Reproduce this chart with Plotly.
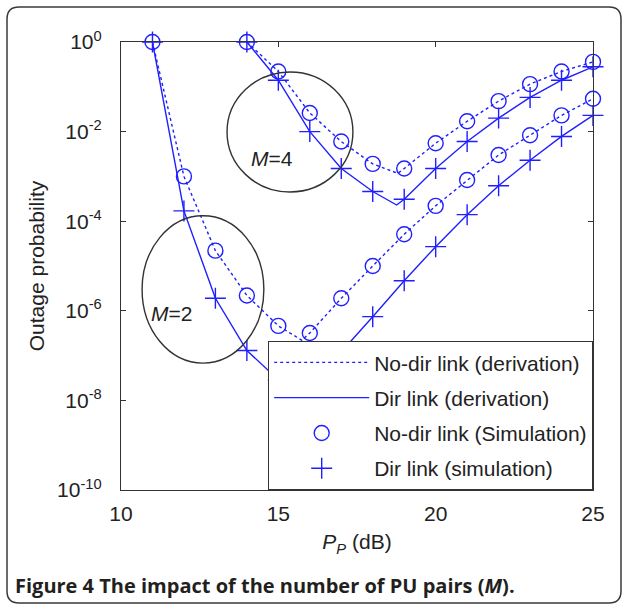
import math
import plotly.graph_objects as go

# ---------------- data ----------------
pp_m2 = [11, 12, 13, 14, 15, 16, 17, 18, 19, 20, 21, 22, 23, 24, 25]
pp_m4 = [14, 15, 16, 17, 18, 19, 20, 21, 22, 23, 24, 25]

# simulation points
m2_nodir_sim = [1.0, 1.0e-3, 2.2e-5, 2.2e-6, 4.6e-7, 3.2e-7, 1.9e-6, 1.0e-5,
                5.1e-5, 2.2e-4, 8.3e-4, 3.0e-3, 8.3e-3, 2.3e-2, 5.4e-2]
m2_dir_sim = [1.0, 1.7e-4, 1.9e-6, 1.3e-7, 2.9e-8, 2.0e-8, 1.2e-7, 7.4e-7,
              4.7e-6, 2.7e-5, 1.4e-4, 6.2e-4, 2.3e-3, 7.8e-3, 2.3e-2]
m4_nodir_sim = [1.0, 2.2e-1, 2.6e-2, 6.0e-3, 1.9e-3, 1.5e-3, 5.5e-3, 1.7e-2,
                4.8e-2, 1.15e-1, 2.2e-1, 3.6e-1]
m4_dir_sim = [1.0, 1.4e-1, 1.0e-2, 1.5e-3, 4.6e-4, 3.1e-4, 1.5e-3, 6.0e-3,
              2.0e-2, 5.8e-2, 1.4e-1, 2.8e-1]

# derivation curves (include the minimum of each V)
m2_der_pp = [11, 12, 13, 14, 15, 15.75, 16, 17, 18, 19, 20, 21, 22, 23, 24, 25]
m2_nodir_der = [1.0, 1.0e-3, 2.2e-5, 2.2e-6, 4.6e-7, 2.2e-7, 3.2e-7, 1.9e-6, 1.0e-5,
                5.1e-5, 2.2e-4, 8.3e-4, 3.0e-3, 8.3e-3, 2.3e-2, 5.4e-2]
m2_dir_der = [1.0, 1.7e-4, 1.9e-6, 1.3e-7, 2.9e-8, 1.4e-8, 2.0e-8, 1.2e-7, 7.4e-7,
              4.7e-6, 2.7e-5, 1.4e-4, 6.2e-4, 2.3e-3, 7.8e-3, 2.3e-2]
m4_nodir_der_pp = [14, 15, 16, 17, 18, 18.8, 19, 20, 21, 22, 23, 24, 25]
m4_nodir_der = [1.0, 2.2e-1, 2.6e-2, 6.0e-3, 1.9e-3, 1.17e-3, 1.5e-3, 5.5e-3, 1.7e-2,
                4.8e-2, 1.15e-1, 2.2e-1, 3.6e-1]
m4_dir_der_pp = [14, 15, 16, 17, 18, 18.76, 19, 20, 21, 22, 23, 24, 25]
m4_dir_der = [1.0, 1.4e-1, 1.0e-2, 1.5e-3, 4.6e-4, 2.3e-4, 3.1e-4, 1.5e-3, 6.0e-3,
              2.0e-2, 5.8e-2, 1.4e-1, 2.8e-1]

x_ticks = [10, 15, 20, 25]
y_tick_vals = [1, 1e-2, 1e-4, 1e-6, 1e-8, 1e-10]
y_tick_text = ["10<sup>0</sup>", "10<sup>-2</sup>", "10<sup>-4</sup>",
               "10<sup>-6</sup>", "10<sup>-8</sup>", "10<sup>-10</sup>"]

legend_names = ["No-dir link (derivation)", "Dir link (derivation)",
                "No-dir link (Simulation)", "Dir link (simulation)"]

# ellipses marking the M groups: [x0, x1, y0, y1]
ellipse_m4 = [13.37, 17.37, 4.5e-4, 2.14e-1]
ellipse_m2 = [10.67, 14.54, 6.8e-8, 1.32e-4]
label_m4 = [14.8, 10 ** -2.6]
label_m2 = [11.62, 10 ** -6.05]

# ---------------- figure ----------------
BLUE = "#1f1fff"
FONT = "Liberation Sans, Arial, sans-serif"
FS = 21
fig = go.Figure()

def der(x, y, dash, name, show, grp):
    fig.add_trace(go.Scatter(x=x, y=y, mode="lines", name=name, showlegend=show,
                             legendgroup=grp,
                             line=dict(color=BLUE, width=1.4, dash=dash)))

def sim(x, y, symbol, size, name, show, grp):
    fig.add_trace(go.Scatter(x=x, y=y, mode="markers", name=name, showlegend=show,
                             legendgroup=grp, cliponaxis=False,
                             marker=dict(symbol=symbol, size=size, color=BLUE,
                                         line=dict(color=BLUE, width=1.4))))

der(m2_der_pp, m2_nodir_der, "dot", legend_names[0], True, "a")
der(m2_der_pp, m2_dir_der, "solid", legend_names[1], True, "b")
sim(pp_m2, m2_nodir_sim, "circle-open", 15, legend_names[2], True, "c")
sim(pp_m2, m2_dir_sim, "cross-thin-open", 15, legend_names[3], True, "d")
der(m4_nodir_der_pp, m4_nodir_der, "dot", legend_names[0], False, "a")
der(m4_dir_der_pp, m4_dir_der, "solid", legend_names[1], False, "b")
sim(pp_m4, m4_nodir_sim, "circle-open", 15, legend_names[2], False, "c")
sim(pp_m4, m4_dir_sim, "cross-thin-open", 15, legend_names[3], False, "d")

for e in (ellipse_m4, ellipse_m2):
    fig.add_shape(type="circle", xref="x", yref="y", x0=e[0], x1=e[1], y0=e[2], y1=e[3],
                  line=dict(color="#333333", width=1.4), layer="above")

for lab, txt in ((label_m4, "<i>M</i>=4"), (label_m2, "<i>M</i>=2")):
    fig.add_annotation(x=lab[0], y=math.log10(lab[1]), xref="x", yref="y", text=txt,
                       showarrow=False, font=dict(family=FONT, size=FS, color="#222"))

# outer rounded frame (paper coords derived from plot margins)
W, H = 625, 606
L, R, T, B = 121, 32, 42, 116
pw, ph = W - L - R, H - T - B
def px(v): return (v - L) / pw
def py(v): return (H - B - v) / ph
fl, fr, ft, fb = px(7), px(621), py(7), py(603)
rx, ry = 12 / pw, 12 / ph
path = (f"M {fl+rx} {ft} L {fr-rx} {ft} Q {fr} {ft} {fr} {ft-ry} L {fr} {fb+ry} "
        f"Q {fr} {fb} {fr-rx} {fb} L {fl+rx} {fb} Q {fl} {fb} {fl} {fb+ry} "
        f"L {fl} {ft-ry} Q {fl} {ft} {fl+rx} {ft} Z")
fig.add_shape(type="path", xref="paper", yref="paper", path=path,
              line=dict(color="#3a3a3a", width=1.5), layer="below")

fig.add_annotation(x=px(13), y=py(585), xref="paper", yref="paper", xanchor="left",
                   yanchor="middle", showarrow=False,
                   text="<b>Figure 4 The impact of the number of PU pairs (<i>M</i>).</b>",
                   font=dict(family="Open Sans, sans-serif", size=20, color="#231f20"))

axis_common = dict(showline=True, linecolor="#333333", linewidth=1.2, mirror="ticks",
                   ticks="inside", ticklen=5, tickcolor="#333333", showgrid=False,
                   zeroline=False, tickfont=dict(family=FONT, size=FS, color="#222"))

fig.update_layout(
    width=W, height=H,
    margin=dict(l=L, r=R, t=T, b=B),
    paper_bgcolor="white", plot_bgcolor="white",
    font=dict(family=FONT, size=FS, color="#222"),
    xaxis=dict(range=[10, 25], tickvals=x_ticks, ticklabelstandoff=5,
               title=dict(text="<i>P</i><sub><i>P</i></sub> (dB)", standoff=10,
                          font=dict(family=FONT, size=FS, color="#222")),
               **axis_common),
    yaxis=dict(type="log", range=[-10, 0], tickvals=y_tick_vals, ticktext=y_tick_text,
               ticklabelstandoff=14,
               title=dict(text="Outage probability", standoff=6,
                          font=dict(family=FONT, size=FS, color="#222")),
               **axis_common),
    legend=dict(x=1, y=0, xanchor="right", yanchor="bottom", bgcolor="white",
                bordercolor="#333333", borderwidth=1.2, itemwidth=95,
                tracegroupgap=5, font=dict(family=FONT, size=FS, color="#222")),
    showlegend=True,
)

fig.write_html("out.html")
